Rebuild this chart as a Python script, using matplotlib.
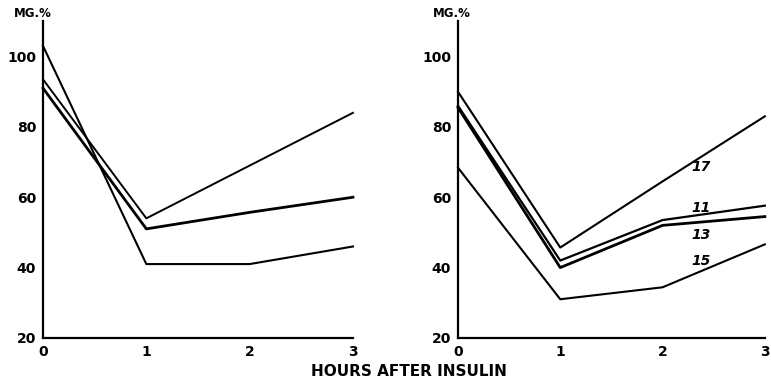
import matplotlib
matplotlib.use("Agg")
import matplotlib.pyplot as plt

hours = [0, 1, 2, 3]

# left panel
left_a = [103, 41, 41, 46]
left_b = [93.5, 54, 69, 84]
left_c = [91, 51, 55.7, 60]

# right panel, labelled curves
right_labels = ["17", "11", "13", "15"]
right_17 = [90, 45.7, 64.5, 83]
right_11 = [86, 42, 53.5, 57.6]
right_13 = [85.5, 40, 52, 54.5]
right_15 = [68.4, 31, 34.4, 46.6]
label_pos = [(2.38, 68.5), (2.38, 57), (2.38, 49.4), (2.38, 41.8)]

yticks = [20, 40, 60, 80, 100]
xticks = [0, 1, 2, 3]


def style_axis(ax, head_x):
    ax.set_xlim(0, 3)
    ax.set_ylim(20, 110)
    ax.set_xticks(xticks)
    ax.set_yticks(yticks)
    ax.tick_params(length=0, labelsize=10, pad=5)
    for lab in ax.get_xticklabels() + ax.get_yticklabels():
        lab.set_fontweight("bold")
    ax.spines["top"].set_visible(False)
    ax.spines["right"].set_visible(False)
    ax.spines["left"].set_linewidth(1.6)
    ax.spines["bottom"].set_linewidth(1.6)
    ax.text(head_x, 110.3, "MG.%", fontsize=8.5, fontweight="bold", ha="center", va="bottom")


fig = plt.figure(figsize=(7.71, 3.81), dpi=100)
ax1 = fig.add_axes([0.0558, 0.113, 0.402, 0.831])
ax2 = fig.add_axes([0.594, 0.113, 0.398, 0.831])

ax1.plot(hours, left_a, color="black", lw=1.5, clip_on=False)
ax1.plot(hours, left_b, color="black", lw=1.4, clip_on=False)
ax1.plot(hours, left_c, color="black", lw=2.0, clip_on=False)

for ys, w in zip([right_17, right_11, right_13, right_15], [1.5, 1.6, 2.0, 1.5]):
    ax2.plot(hours, ys, color="black", lw=w, clip_on=False)
for lab, (x, y) in zip(right_labels, label_pos):
    ax2.text(x, y, lab, fontsize=10, fontweight="bold", style="italic", ha="center", va="center")

style_axis(ax1, -0.1)
style_axis(ax2, -0.06)

fig.text(0.531, 0.025, "HOURS AFTER INSULIN", fontsize=11, fontweight="bold", ha="center", va="center")

fig.savefig("out.png", dpi=100)
